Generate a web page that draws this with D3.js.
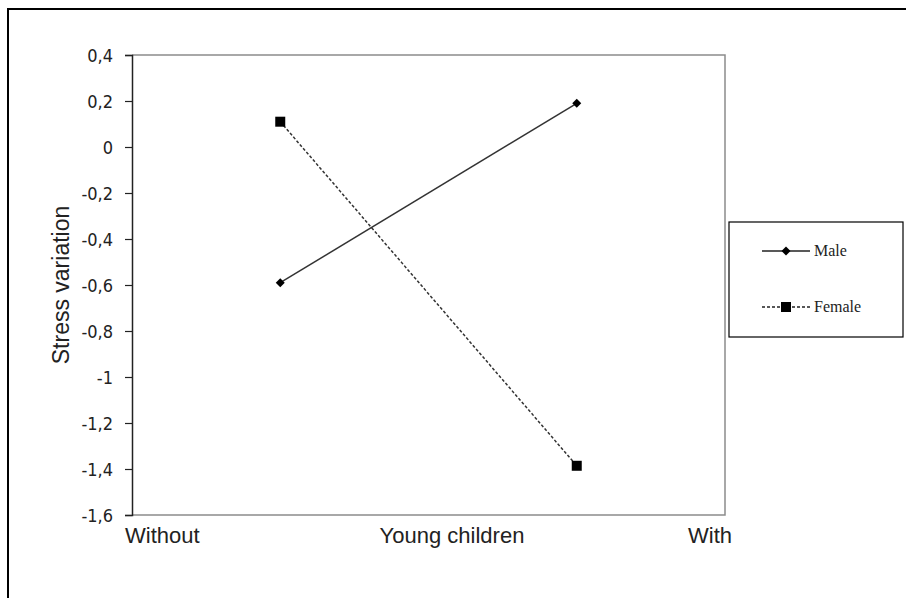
<!DOCTYPE html>
<html>
<head>
<meta charset="utf-8">
<script src="https://cdn.jsdelivr.net/npm/d3@7"></script>
<style>
  html, body { margin: 0; padding: 0; background: #fff; }
  svg { display: block; }
</style>
</head>
<body>
<svg id="chart" width="906" height="598"></svg>
<script>
// ---- data ----
const categories = ["Without", "With"];
const maleValues = [-0.59, 0.19];
const femaleValues = [0.11, -1.386];
const yTicks = [0.4, 0.2, 0, -0.2, -0.4, -0.6, -0.8, -1, -1.2, -1.4, -1.6];
const seriesNames = ["Male", "Female"];
const xAxisTitle = "Young children";
const yAxisTitle = "Stress variation";

const svg = d3.select("#chart");
const W = 906, H = 598;
const plot = { left: 132, top: 55, right: 725, bottom: 515 };

// outer frame (extends beyond right/bottom)
svg.append("rect")
  .attr("x", 8).attr("y", 9)
  .attr("width", W + 20).attr("height", H + 20)
  .attr("fill", "#fff").attr("stroke", "#000").attr("stroke-width", 2);

const x = d3.scalePoint().domain(categories).range([plot.left, plot.right]).padding(0.5);
const y = d3.scaleLinear().domain([-1.6, 0.4]).range([plot.bottom, plot.top]);

// plot border (top/right/bottom gray)
svg.append("path")
  .attr("d", `M${plot.left},${plot.top}H${plot.right}V${plot.bottom}H${plot.left}`)
  .attr("fill", "none").attr("stroke", "#8c8c8c").attr("stroke-width", 1.5);

const locale = d3.formatLocale({ decimal: ",", thousands: ".", grouping: [3], currency: ["", ""], minus: "-" });
const fmt = locale.format(".1~f");

const yAxis = svg.append("g")
  .attr("transform", `translate(${plot.left},0)`)
  .call(d3.axisLeft(y).tickValues(yTicks).tickFormat(fmt).tickSize(7).tickPadding(12));
yAxis.attr("font-size", null);
yAxis.select(".domain").attr("stroke", "#222").attr("stroke-width", 1.5);
yAxis.selectAll(".tick line").attr("stroke", "#222").attr("stroke-width", 1.2);
yAxis.selectAll(".tick text")
  .style("font-family", "'DejaVu Sans Condensed', 'DejaVu Sans', Verdana, sans-serif")
  .style("font-stretch", "condensed")
  .style("font-size", "18px").attr("fill", "#222")
  .attr("dy", "0.36em");

// x labels
const xLabelY = 543;
const xFont = 22;
svg.append("text").text(categories[0]).attr("x", 125).attr("y", xLabelY)
  .attr("font-family", "'Liberation Sans', Arial, sans-serif").attr("font-size", xFont).attr("fill", "#222");
svg.append("text").text(xAxisTitle).attr("x", 452).attr("y", xLabelY)
  .attr("text-anchor", "middle")
  .attr("font-family", "'Liberation Sans', Arial, sans-serif").attr("font-size", xFont).attr("fill", "#222");
svg.append("text").text(categories[1]).attr("x", 732).attr("y", xLabelY)
  .attr("text-anchor", "end")
  .attr("font-family", "'Liberation Sans', Arial, sans-serif").attr("font-size", xFont).attr("fill", "#222");

// y title
svg.append("text").text(yAxisTitle)
  .attr("transform", `translate(69,285) rotate(-90)`)
  .attr("text-anchor", "middle")
  .attr("font-family", "'Liberation Sans', Arial, sans-serif").attr("font-size", 23).attr("fill", "#222");

// lines
const line = d3.line().x((d, i) => x(categories[i])).y(d => y(d));
svg.append("path").datum(maleValues).attr("d", line)
  .attr("fill", "none").attr("stroke", "#333").attr("stroke-width", 1.5);
svg.append("path").datum(femaleValues).attr("d", line)
  .attr("fill", "none").attr("stroke", "#333").attr("stroke-width", 1.5).attr("stroke-dasharray", "3,2");

const diamond = d3.symbol().type(d3.symbolSquare).size(40);
const square = d3.symbol().type(d3.symbolSquare).size(100);

svg.selectAll(".male-pt").data(maleValues).enter().append("path")
  .attr("class", "male-pt")
  .attr("d", diamond)
  .attr("transform", (d, i) => `translate(${x(categories[i])},${y(d)}) rotate(45)`)
  .attr("fill", "#000");
svg.selectAll(".female-pt").data(femaleValues).enter().append("path")
  .attr("class", "female-pt")
  .attr("d", square)
  .attr("transform", (d, i) => `translate(${x(categories[i])},${y(d)})`)
  .attr("fill", "#000");

// legend
const lg = svg.append("g");
lg.append("rect").attr("x", 729).attr("y", 222).attr("width", 174).attr("height", 115)
  .attr("fill", "#fff").attr("stroke", "#000").attr("stroke-width", 1.2);
const legendRows = [
  { name: seriesNames[0], y: 251, dash: null, sym: diamond, rot: 45 },
  { name: seriesNames[1], y: 307, dash: "3,2", sym: square, rot: 0 }
];
legendRows.forEach(r => {
  lg.append("line").attr("x1", 762).attr("x2", 810).attr("y1", r.y).attr("y2", r.y)
    .attr("stroke", "#222").attr("stroke-width", 1.3).attr("stroke-dasharray", r.dash);
  lg.append("path").attr("d", r.sym).attr("transform", `translate(786,${r.y}) rotate(${r.rot})`).attr("fill", "#000");
  lg.append("text").text(r.name).attr("x", 814).attr("y", r.y + 5)
    .attr("font-family", "'Liberation Serif', 'Times New Roman', serif")
    .attr("font-size", 16).attr("fill", "#222");
});
</script>
</body>
</html>
